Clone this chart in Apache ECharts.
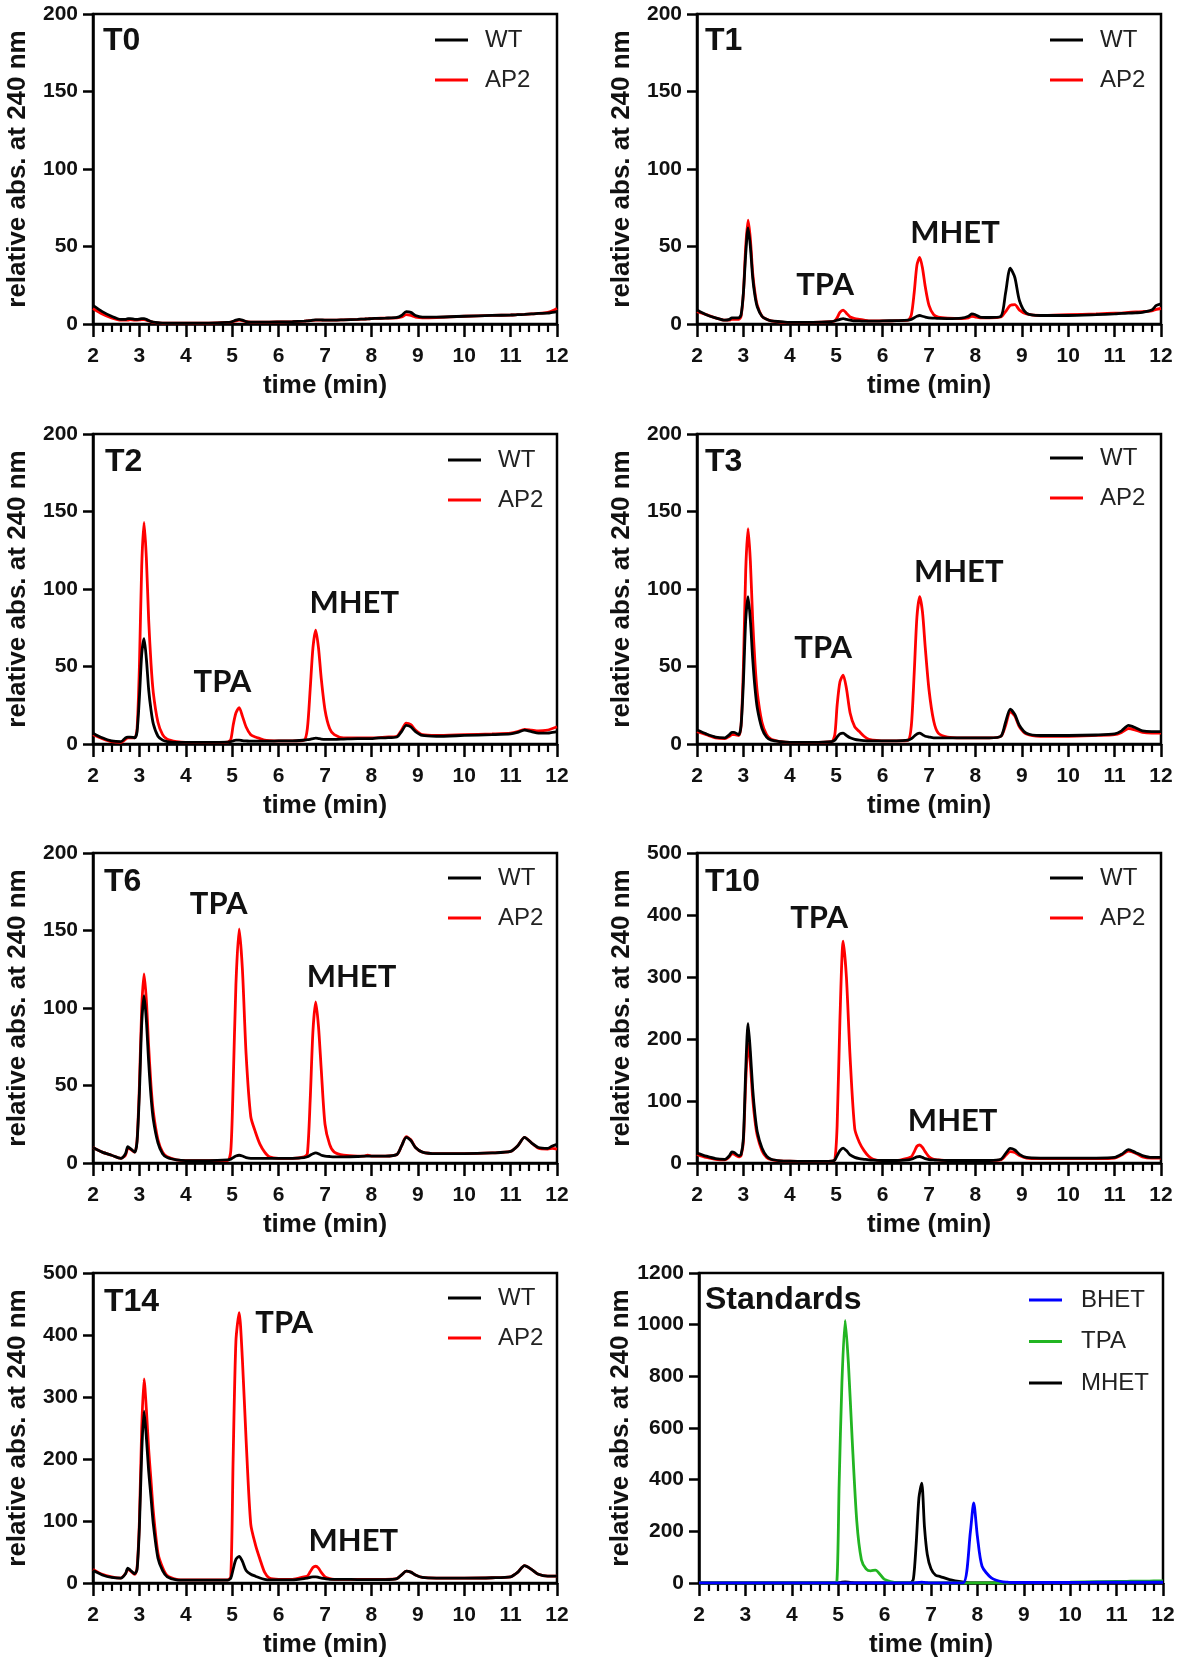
<!DOCTYPE html>
<html>
<head>
<meta charset="utf-8">
<script src="https://cdn.jsdelivr.net/npm/echarts@6/dist/echarts.min.js"></script>
<style>
html,body{margin:0;padding:0;background:#fff;}
#chart{width:1181px;height:1663px;}
</style>
</head>
<body>
<div id="chart"></div>
<script>
// shared retention-time axis (min)
const time = [
  2.0, 2.2, 2.4, 2.6, 2.7, 2.75, 2.8, 2.9, 2.95, 3.0,
  3.05, 3.1, 3.15, 3.2, 3.25, 3.3, 3.4, 3.5, 3.6, 3.8,
  4.0, 4.5, 4.9, 4.97, 5.02, 5.08, 5.15, 5.22, 5.3, 5.4,
  5.5, 5.6, 5.7, 5.8, 6.0, 6.3, 6.55, 6.62, 6.68, 6.74,
  6.8, 6.86, 6.92, 7.0, 7.1, 7.2, 7.4, 7.7, 7.85, 7.92,
  8.0, 8.1, 8.3, 8.55, 8.65, 8.75, 8.85, 8.95, 9.1, 9.4,
  10.0, 10.6, 11.0, 11.15, 11.3, 11.45, 11.6, 11.8, 11.9, 12.0
];

const t0_WT = [
  12, 8, 5, 3, 3, 3.5, 3.5, 3, 3, 3.2,
  3.5, 3.5, 3, 2.2, 1.6, 1.2, 0.8, 0.6, 0.5, 0.5,
  0.5, 0.6, 1, 1.2, 1.8, 2.5, 3, 2.5, 1.6, 1.2,
  1.2, 1.2, 1.2, 1.2, 1.3, 1.5, 1.8, 2, 2.2, 2.5,
  2.7, 2.7, 2.6, 2.5, 2.5, 2.5, 2.7, 3, 3.2, 3.3,
  3.5, 3.6, 3.8, 4.2, 5.5, 8, 7.5, 5.5, 4.5, 4.5,
  5, 5.5, 5.8, 6, 6.2, 6.5, 6.8, 7, 7.5, 8
];
const t0_AP2 = [
  10, 6.5, 4, 2.5, 2.5, 2.5, 2.8, 2.5, 2.5, 2.6,
  2.8, 2.8, 2.5, 2, 1.5, 1, 0.7, 0.5, 0.5, 0.5,
  0.5, 0.6, 1, 1.2, 1.5, 2, 2.5, 2.2, 1.5, 1.2,
  1.2, 1.2, 1.2, 1.2, 1.3, 1.5, 1.8, 2, 2.2, 2.4,
  2.5, 2.5, 2.5, 2.5, 2.5, 2.5, 2.7, 3, 3.2, 3.3,
  3.5, 3.6, 3.8, 4, 4.5, 6, 5.5, 4.5, 4, 4.2,
  5, 5.5, 5.8, 6, 6.2, 6.5, 6.8, 7.5, 8.5, 10
];

const t1_WT = [
  9, 6, 4, 2.5, 3, 4, 4, 4, 6, 20,
  45, 62, 50, 30, 18, 11, 5, 3, 2, 1.5,
  1, 1, 1.5, 2, 2.5, 3, 3.5, 3, 2.5, 2,
  2, 1.8, 1.8, 1.8, 2, 2.2, 2.5, 3, 4, 5,
  5.5, 5, 4.5, 4, 3.8, 3.6, 3.5, 3.8, 5, 6.5,
  6, 4.5, 4.2, 5, 20, 36, 30, 15, 7, 5.5,
  5.5, 6, 6.5, 6.8, 7, 7.2, 7.5, 9, 12, 13
];
const t1_AP2 = [
  8, 6, 4, 2.5, 2.5, 3, 3, 3, 5, 20,
  50, 67, 55, 33, 20, 12, 5, 3, 2, 1.2,
  1, 1, 1.5, 2, 4, 7.5, 9, 7, 4.5, 3.5,
  3, 2.5, 2, 2, 2, 2.2, 2.5, 6, 20, 38,
  43, 36, 24, 12, 6, 4.5, 3.8, 3.5, 4, 5,
  4.5, 4, 4, 4.5, 8, 12, 12.5, 9, 6.5, 5.5,
  6, 6.5, 7, 7, 7.5, 7.8, 8, 8.5, 9.5, 10
];

const t2_WT = [
  7, 4, 2, 1.5, 4, 4.5, 4.5, 4, 8, 30,
  58, 68, 55, 35, 22, 13, 5, 2.5, 1.5, 1,
  1, 1, 1.2, 1.5, 2, 2.5, 2.5, 2.2, 2, 1.8,
  1.8, 1.8, 1.8, 1.8, 2, 2, 2.5, 2.8, 3, 3.5,
  3.8, 3.5, 3.2, 3, 3, 3, 3.2, 3.5, 3.5, 3.5,
  3.5, 3.8, 4, 4.5, 8, 12, 11, 8, 5.5, 5,
  5.5, 6, 6.5, 7.5, 9, 8, 7, 7, 7.5, 8
];
const t2_AP2 = [
  6, 3.5, 1.5, 1, 3, 4, 4, 4, 10, 50,
  115, 143, 120, 80, 52, 33, 14, 6, 3, 1.5,
  1, 1, 1.2, 3, 12, 20, 23.5, 18, 11, 6,
  4.5, 3.5, 2.5, 2.2, 2, 2, 2.5, 10, 35, 62,
  73.5, 62, 42, 22, 10, 6, 4, 4, 4, 4,
  4, 4, 4.5, 5, 9, 13.5, 12.5, 9, 6, 5.5,
  6, 6.5, 7, 8, 9.5, 9, 8.5, 9, 10, 11
];

const t3_WT = [
  9, 6.5, 4.5, 4, 6, 7.5, 7.5, 6, 12, 40,
  80, 95, 80, 55, 36, 23, 10, 4.5, 2.5, 1.5,
  1, 1, 1.5, 2.5, 4.5, 6.5, 7, 5.5, 4, 3,
  2.5, 2.2, 2, 2, 2, 2, 2.5, 3.5, 5, 6.5,
  7, 6, 5, 4.5, 4, 4, 4, 4, 4, 4,
  4, 4, 4, 5, 14, 22.5, 19, 12, 7, 5.5,
  5.5, 5.8, 6.5, 8.5, 12, 10.5, 8.5, 8, 8, 8
];
const t3_AP2 = [
  8, 6, 4, 3.5, 5, 6, 6, 5.5, 12, 50,
  112, 139, 118, 80, 52, 33, 14, 6, 3, 1.5,
  1, 1, 1.5, 6, 25, 40, 44.5, 36, 20, 11,
  8, 5, 3, 2.5, 2, 2, 2.5, 12, 45, 82,
  95, 85, 62, 35, 15, 7, 4.5, 4, 4, 4,
  4, 4, 4, 5, 12, 21, 18, 11, 6.5, 5,
  5, 5.5, 6, 7.5, 10, 9, 7.5, 7, 7, 7
];

const t6_WT = [
  10, 7, 5, 3, 6, 10.5, 9.5, 7, 14, 45,
  90, 108, 92, 65, 43, 28, 13, 6, 3.5, 2,
  1.5, 1.5, 2, 2.5, 3.5, 4.5, 5, 4.5, 3.5, 3,
  3, 3, 3, 3, 3, 3, 3.5, 4, 5, 6,
  6.5, 6, 5, 4.5, 4.2, 4, 4, 4.2, 4.5, 4.5,
  4.5, 4.5, 4.5, 5.5, 11, 16.5, 14.5, 10, 7, 6,
  6, 6.5, 7.5, 11, 16.5, 13, 10, 9.5, 11, 12
];
const t6_AP2 = [
  10, 7, 5, 3, 5, 9.5, 9, 7, 15, 50,
  100, 122, 105, 75, 50, 33, 15, 7, 4, 2,
  1.5, 1.5, 1.5, 8, 50, 115, 151, 125, 70, 30,
  20, 12, 7, 4, 3, 3, 4, 6, 40, 85,
  104, 88, 60, 25, 12, 7, 5, 4.5, 4.5, 5,
  4.5, 4.5, 4.5, 5.5, 11, 17, 15, 10, 7, 6,
  6, 6.5, 7.5, 11, 16.5, 13, 9.5, 9, 9.5, 9
];

const t10_WT = [
  16, 11, 7, 6, 12, 18, 17, 12, 14, 40,
  150, 225, 180, 120, 78, 50, 24, 11, 6, 3.5,
  3, 2.5, 3, 5, 12, 20, 24, 20, 13, 9,
  7, 6, 5, 4.5, 4, 4, 5, 6, 8, 10,
  10.5, 9, 7, 5.5, 5, 4.5, 4, 4, 4, 4,
  4, 4, 4, 6, 15, 23.5, 21, 14, 9, 8,
  8, 8, 9, 14, 21.5, 17, 12, 9, 9, 9
];
const t10_AP2 = [
  14, 9, 6, 5, 10, 15, 14, 10, 12, 35,
  130, 193, 160, 105, 68, 44, 20, 9, 5.5, 3.5,
  3, 2.5, 3, 5, 60, 230, 358, 300, 170, 55,
  33, 20, 11, 6, 4, 4, 8, 10, 18, 27,
  29, 25, 18, 10, 6, 5, 4, 4, 4, 4,
  4, 4, 4, 5, 12, 18.5, 17, 12, 8, 7,
  7, 7, 8, 13, 19, 16, 10, 8, 8, 8
];

const t14_WT = [
  20, 13, 9, 8, 15, 24, 21, 15, 22, 90,
  210, 277, 235, 180, 138, 95, 40, 20, 10, 5,
  4.5, 4.5, 4.5, 8, 22, 38, 43, 35, 20, 14,
  11, 8, 6, 5, 5, 5, 7, 8, 9, 10,
  10, 9, 8, 7, 6, 6, 6, 5.5, 5.5, 5.5,
  5.5, 5.5, 5.5, 7, 13, 19, 17.5, 13, 9, 8,
  8, 8.5, 10, 17, 28, 22, 14, 11, 11, 11
];
const t14_AP2 = [
  22, 14, 10, 8, 15, 22, 20, 14, 25, 100,
  250, 329, 280, 215, 165, 115, 48, 25, 12, 6,
  5, 5, 5, 10, 200, 390, 436, 360, 230, 95,
  62, 38, 17, 8, 6, 6, 10, 11, 18, 25,
  27, 24, 17, 10, 7, 6, 6, 6, 6, 6,
  6, 6, 6, 7, 13, 19, 17.5, 13, 9, 8,
  8, 8.5, 10, 17, 28, 22, 14, 11, 11, 11
];

const std_BHET = [
  0, 0, 0, 0, 0, 0, 0, 0, 0, 0,
  0, 0, 0, 0, 0, 0, 0, 0, 0, 0,
  0, 0, 0, 0, 0, 0, 0, 0, 0, 0,
  0, 0, 0, 0, 0, 0, 0, 0, 1, 2,
  3, 2, 1, 0, 0, 0, 0, 1, 200, 310,
  180, 65, 20, 4, 3, 2, 2, 2, 2, 2,
  2, 3, 3, 3, 3, 3, 3, 3, 3, 3
];
const std_TPA = [
  0, 0, 0, 0, 0, 0, 0, 0, 0, 0,
  0, 0, 0, 0, 0, 0, 0, 0, 0, 0,
  0, 0, 0, 2, 380, 775, 1017, 850, 560, 240,
  90, 55, 47, 50, 14, 1, 0, 0, 0, 0,
  0, 0, 0, 0, 0, 0, 0, 0, 0, 0,
  0, 0, 0, 0, 0, 0, 0, 0, 1, 2,
  3, 5, 6, 6, 7, 7, 7, 8, 8, 8
];
const std_MHET = [
  0, 0, 0, 0, 0, 0, 0, 0, 0, 0,
  0, 0, 0, 0, 0, 0, 0, 0, 0, 0,
  0, 0, 0, 0, 1, 3, 4, 3, 1, 0,
  0, 0, 0, 0, 0, 0, 0, 15, 150, 330,
  387, 215, 110, 55, 30, 25, 13, 3, 0, 0,
  0, 0, 0, 0, 0, 0, 0, 0, 0, 0,
  0, 0, 0, 0, 0, 0, 0, 0, 0, 0
];

// x-axis ticks
const xMin = 2, xMax = 12, xStep = 1;

// panel labels, y scales and peak annotations [label, time, value]
const panelNames = ['T0', 'T1', 'T2', 'T3', 'T6', 'T10', 'T14', 'Standards'];
const yMaxes = [200, 200, 200, 200, 200, 500, 500, 1200];
const yIntervals = [50, 50, 50, 50, 50, 100, 100, 200];
const annotations = [
  [],
  [['TPA', 4.76, 25], ['MHET', 7.56, 59]],
  [['TPA', 4.79, 40], ['MHET', 7.63, 91]],
  [['TPA', 4.72, 62], ['MHET', 7.64, 111]],
  [['TPA', 4.71, 167], ['MHET', 7.57, 120]],
  [['TPA', 4.63, 395], ['MHET', 7.51, 67]],
  [['TPA', 6.12, 419], ['MHET', 7.61, 67]],
  []
];
const sampleSeries = [
  [t0_WT, t0_AP2], [t1_WT, t1_AP2], [t2_WT, t2_AP2], [t3_WT, t3_AP2],
  [t6_WT, t6_AP2], [t10_WT, t10_AP2], [t14_WT, t14_AP2]
];

// ---- layout (pixels) ----
const layout = [
  {left: 93,  top: 14,   titleLeft: 103, titleTop: 25,  legLeft: 435,  legTop: 28},
  {left: 697, top: 14,   titleLeft: 705, titleTop: 25,  legLeft: 1050, legTop: 28},
  {left: 93,  top: 434,  titleLeft: 105, titleTop: 446, legLeft: 448,  legTop: 448},
  {left: 697, top: 434,  titleLeft: 705, titleTop: 446, legLeft: 1050, legTop: 446},
  {left: 93,  top: 853,  titleLeft: 104, titleTop: 866, legLeft: 448,  legTop: 866},
  {left: 697, top: 853,  titleLeft: 705, titleTop: 866, legLeft: 1050, legTop: 866},
  {left: 93,  top: 1273, titleLeft: 104, titleTop: 1286, legLeft: 448, legTop: 1286},
  {left: 699, top: 1273, titleLeft: 705, titleTop: 1284, legLeft: 1029, legTop: 1288}
];
const GW = 464, GH = 310;
const FONT = "'Liberation Sans', Arial, sans-serif";

const pairs = (ys) => time.map((t, i) => [t, ys[i]]);

const grids = [], xAxes = [], yAxes = [], series = [], titles = [], legends = [];

layout.forEach((L, i) => {
  grids.push({left: L.left, top: L.top, width: GW, height: GH,
    show: true, borderColor: '#000', borderWidth: 2.5, containLabel: false});
  xAxes.push({
    gridIndex: i, type: 'value', min: xMin, max: xMax, interval: xStep,
    axisLine: {show: true, onZero: false, lineStyle: {color: '#000', width: 2.5}},
    axisTick: {show: true, length: 13, lineStyle: {color: '#000', width: 2.5}},
    minorTick: {show: true, splitNumber: 5, length: 8, lineStyle: {color: '#000', width: 2.2}},
    splitLine: {show: false}, minorSplitLine: {show: false},
    axisLabel: {fontSize: 21, fontWeight: 'bold', color: '#111', margin: 22, fontFamily: FONT},
    name: 'time (min)', nameLocation: 'middle', nameGap: 49,
    nameTextStyle: {fontSize: 26, fontWeight: 'bold', color: '#111', fontFamily: FONT}
  });
  yAxes.push({
    gridIndex: i, type: 'value', min: 0, max: yMaxes[i], interval: yIntervals[i],
    axisLine: {show: true, lineStyle: {color: '#000', width: 2.5}},
    axisTick: {show: true, length: 10, lineStyle: {color: '#000', width: 2.5}},
    splitLine: {show: false},
    axisLabel: {fontSize: 21, fontWeight: 'bold', color: '#111', margin: 15, fontFamily: FONT,
      formatter: (v) => String(v)},
    name: 'relative abs. at 240 nm', nameLocation: 'middle', nameGap: 62,
    nameTextStyle: {fontSize: 26, fontWeight: 'bold', color: '#111', fontFamily: FONT}
  });
  titles.push({text: panelNames[i], left: L.titleLeft, top: L.titleTop, padding: 0,
    textStyle: {fontSize: 32, fontWeight: 'bold', color: '#111', fontFamily: FONT}});
  const isStd = i === 7;
  legends.push({
    data: isStd ? ['BHET', 'TPA', 'MHET'] : ['WT', 'AP2'],
    left: L.legLeft, top: L.legTop, orient: 'vertical', padding: 0,
    icon: 'rect', itemWidth: 33, itemHeight: 3, itemGap: isStd ? 17.5 : 16,
    selectedMode: false,
    textStyle: {fontSize: 24, color: '#222', fontFamily: FONT, padding: [0, 0, 0, isStd ? 14 : 12]}
  });
});

const lineBase = (name, data, color, idx, z) => ({
  name, type: 'line', xAxisIndex: idx, yAxisIndex: idx, data: pairs(data),
  showSymbol: false, symbol: 'none', smooth: 0.25, z,
  lineStyle: {color, width: 2.8}, itemStyle: {color}, animation: false
});

sampleSeries.forEach((pr, i) => {
  const ap2 = lineBase('AP2', pr[1], '#ff0000', i, 2);
  if (annotations[i].length) {
    ap2.markPoint = {
      symbol: 'circle', symbolSize: 1, silent: true, animation: false,
      itemStyle: {color: 'rgba(0,0,0,0)'},
      label: {show: true, position: 'inside', fontSize: 31, fontWeight: 'bold',
        color: '#111', fontFamily: "Lato, 'Open Sans', sans-serif",
        formatter: (p) => p.name},
      data: annotations[i].map(a => ({name: a[0], coord: [a[1], a[2]]}))
    };
  }
  series.push(ap2);
  series.push(lineBase('WT', pr[0], '#000000', i, 3));
});
series.push(lineBase('MHET', std_MHET, '#000000', 7, 2));
series.push(lineBase('TPA', std_TPA, '#22b522', 7, 3));
series.push(lineBase('BHET', std_BHET, '#0000ff', 7, 4));

const chart = echarts.init(document.getElementById('chart'), null, {renderer: 'canvas'});
chart.setOption({
  backgroundColor: '#fff',
  animation: false,
  title: titles,
  legend: legends,
  grid: grids,
  xAxis: xAxes,
  yAxis: yAxes,
  series
});
</script>
</body>
</html>
